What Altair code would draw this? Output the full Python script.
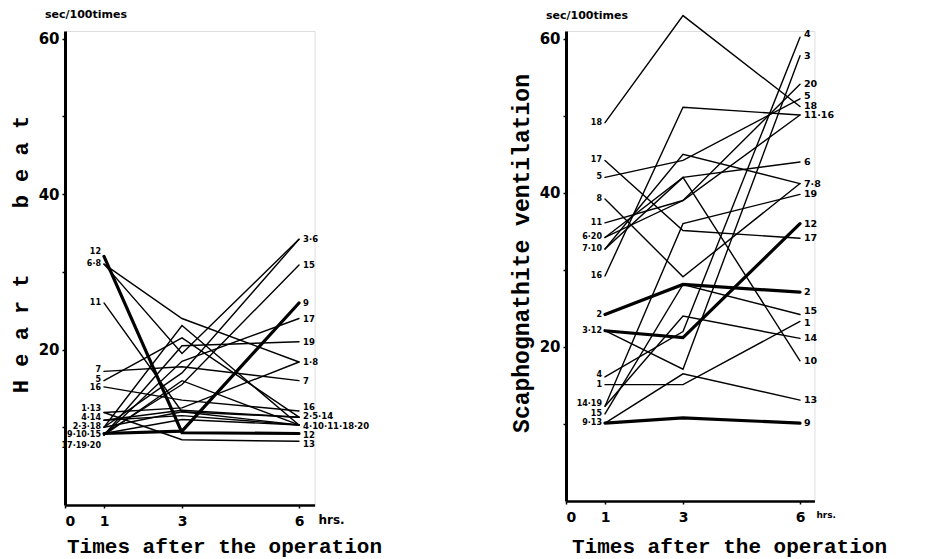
import altair as alt
import pandas as pd

hours = [1, 3, 6]
series_ids = list(range(1, 21))

# Heart beat (sec/100 times), series 1..20
heart_1h = [11.9, 10.0, 10.0, 10.9, 16.0, 31.0, 17.2, 31.0, 9.2, 9.2,
            26.0, 32.0, 11.9, 10.9, 9.2, 15.2, 9.0, 10.0, 9.0, 9.0]
heart_3h = [12.5, 12.0, 17.0, 11.5, 21.5, 19.5, 17.8, 24.0, 9.5, 11.0,
            12.0, 9.3, 8.4, 12.2, 15.5, 13.5, 18.5, 23.1, 20.5, 16.0]
heart_6h = [18.4, 11.3, 34.2, 10.3, 11.3, 34.2, 16.0, 18.4, 26.0, 10.3,
            10.3, 9.2, 8.2, 11.3, 30.9, 12.1, 24.0, 10.3, 21.0, 10.3]
heart_bold = [9, 12]

heart_start_labels = ["12", "6·8", "11", "7", "5", "16", "1·13", "4·14", "2·3·18", "9·10·15", "17·19·20"]
heart_start_y = [32.6, 31.0, 26.0, 17.4, 16.1, 15.0, 12.3, 11.2, 10.1, 9.0, 7.6]
heart_end_labels = ["3·6", "15", "9", "17", "19", "1·8", "7", "16", "2·5·14", "4·10·11·18·20", "12", "13"]
heart_end_y = [34.2, 30.9, 26.0, 24.0, 21.0, 18.4, 16.0, 12.6, 11.4, 10.2, 9.0, 7.8]

# Scaphognathite ventilation (sec/100 times), series 1..20
vent_1h = [15.1, 24.2, 22.1, 16.1, 42.0, 34.2, 32.7, 39.2, 10.1, 32.7,
           36.1, 22.1, 10.1, 12.3, 11.3, 29.2, 44.2, 49.1, 12.3, 34.2]
vent_3h = [15.1, 28.1, 17.1, 22.0, 44.2, 42.0, 45.0, 29.1, 10.8, 42.0,
           39.0, 21.2, 16.5, 24.0, 28.1, 51.1, 35.1, 63.0, 36.0, 39.0]
vent_6h = [23.3, 27.1, 57.8, 60.2, 52.2, 44.0, 41.2, 41.2, 10.1, 18.2,
           50.1, 36.0, 13.1, 21.1, 24.2, 50.1, 34.1, 51.2, 39.8, 54.1]
vent_bold = [2, 9, 12]

vent_start_labels = ["18", "17", "5", "8", "11", "6·20", "7·10", "16", "2", "3·12", "4", "1", "14·19", "15", "9·13"]
vent_start_y = [49.1, 44.2, 42.0, 39.2, 36.1, 34.2, 32.7, 29.2, 24.2, 22.1, 16.4, 15.1, 12.6, 11.3, 10.1]
vent_end_labels = ["4", "3", "20", "5", "18", "11·16", "6", "7·8", "19", "12", "17", "2", "15", "1", "14", "10", "13", "9"]
vent_end_y = [60.6, 57.8, 54.1, 52.6, 51.3, 50.1, 44.0, 41.2, 39.8, 36.0, 34.1, 27.1, 24.7, 23.1, 21.1, 18.2, 13.1, 10.1]

unit_label = "sec/100times"

TITLE_FONT = "Liberation Mono"
NUM_FONT = "DejaVu Sans"
NB = "\u00a0"


def long_table(v1, v3, v6, bold):
    rows = []
    for i, sid in enumerate(series_ids):
        for h, v in zip(hours, (v1[i], v3[i], v6[i])):
            rows.append({"series": sid, "hour": h, "value": v,
                         "w": 3.2 if sid in bold else 1.4})
    return pd.DataFrame(rows)


def panel(v1, v3, v6, bold, s_lab, s_y, e_lab, e_y, ytitle, xmax, height,
          ytitle_x, ytitle_y, ytitle_size, xtitle_x, xtitle_y, hrs_x, hrs_size,
          end_size):
    df = long_table(v1, v3, v6, bold)
    xs = alt.Scale(domain=[0, xmax], nice=False, zero=True)
    ys = alt.Scale(domain=[0, 61], nice=False, zero=True)
    width = xmax * 39.0

    lines = alt.Chart(df).mark_line(color="black", clip=False, strokeCap="round",
                                    strokeJoin="miter").encode(
        x=alt.X("hour:Q", scale=xs,
                axis=alt.Axis(values=[0, 1, 3, 6], title="Times after the operation",
                              grid=False, tickSize=3, tickColor="black", tickWidth=1.5,
                              domainColor="black", domainWidth=2.5,
                              labelFont=NUM_FONT, labelFontWeight="bold", labelFontSize=14,
                              labelColor="black", labelPadding=6,
                              titleFont=TITLE_FONT, titleFontSize=21, titleFontWeight="bold",
                              titleColor="black", titleX=xtitle_x, titleY=xtitle_y,
                              titleBaseline="middle", titleAlign="center")),
        y=alt.Y("value:Q", scale=ys,
                axis=alt.Axis(values=[10, 20, 30, 40, 50, 60],
                              labelExpr="datum.value % 20 == 0 ? datum.label : ''",
                              title=ytitle, grid=False, tickSize=3, tickColor="black",
                              tickWidth=1.5, domainColor="black", domainWidth=3,
                              labelFont=NUM_FONT, labelFontWeight="bold", labelFontSize=15,
                              labelColor="black", labelPadding=3,
                              titleFont=TITLE_FONT, titleFontSize=ytitle_size,
                              titleFontWeight="bold", titleColor="black",
                              titleX=ytitle_x, titleY=ytitle_y, titleAngle=270,
                              titleBaseline="middle", titleAlign="center")),
        detail="series:N",
        strokeWidth=alt.StrokeWidth("w:Q", scale=None),
    )

    sdf = pd.DataFrame({"lab": s_lab, "y": s_y, "hour": [1] * len(s_lab)})
    edf = pd.DataFrame({"lab": e_lab, "y": e_y, "hour": [6] * len(e_lab)})
    start = alt.Chart(sdf).mark_text(align="right", baseline="middle", dx=-3,
                                     font=NUM_FONT, fontWeight="bold", fontSize=8,
                                     color="black", clip=False).encode(
        x=alt.X("hour:Q", scale=xs), y=alt.Y("y:Q", scale=ys), text="lab:N")
    end = alt.Chart(edf).mark_text(align="left", baseline="middle", dx=4,
                                   font=NUM_FONT, fontWeight="bold", fontSize=end_size,
                                   color="black", clip=False).encode(
        x=alt.X("hour:Q", scale=xs), y=alt.Y("y:Q", scale=ys), text="lab:N")
    hdf = pd.DataFrame({"hour": [hrs_x], "y": [0], "lab": ["hrs."]})
    hrs = alt.Chart(hdf).mark_text(align="left", baseline="top", dy=10,
                                   font=NUM_FONT, fontWeight="bold", fontSize=hrs_size,
                                   color="black", clip=False).encode(
        x=alt.X("hour:Q", scale=xs), y=alt.Y("y:Q", scale=ys), text="lab:N")
    udf = pd.DataFrame({"hour": [0], "y": [63], "lab": [unit_label]})
    unit = alt.Chart(udf).mark_text(align="left", baseline="middle", dx=-20,
                                    font=NUM_FONT, fontWeight="bold", fontSize=11,
                                    color="black", clip=False).encode(
        x=alt.X("hour:Q", scale=xs), y=alt.Y("y:Q", scale=ys), text="lab:N")

    return alt.layer(lines, start, end, hrs, unit).properties(width=width, height=height)


heart_title = NB.join(list("Heart")) + NB * 5 + NB.join(list("beat"))

left = panel(heart_1h, heart_3h, heart_6h, heart_bold,
             heart_start_labels, heart_start_y, heart_end_labels, heart_end_y,
             heart_title, 6.4, 474,
             -45, 223, 22, 159, 41, 6.5, 12, 8.5)
right = panel(vent_1h, vent_3h, vent_6h, vent_bold,
              vent_start_labels, vent_start_y, vent_end_labels, vent_end_y,
              "Scaphognathite ventilation", 6.37, 470,
              -45, 222, 23, 163, 45, 6.42, 9, 9.5)

chart = alt.hconcat(left, right, spacing=251, bounds="flush").properties(
    padding=0
).configure_view(stroke=None).configure(background="white")

chart.save("out.html", embed_options={"renderer": "svg", "actions": False})
